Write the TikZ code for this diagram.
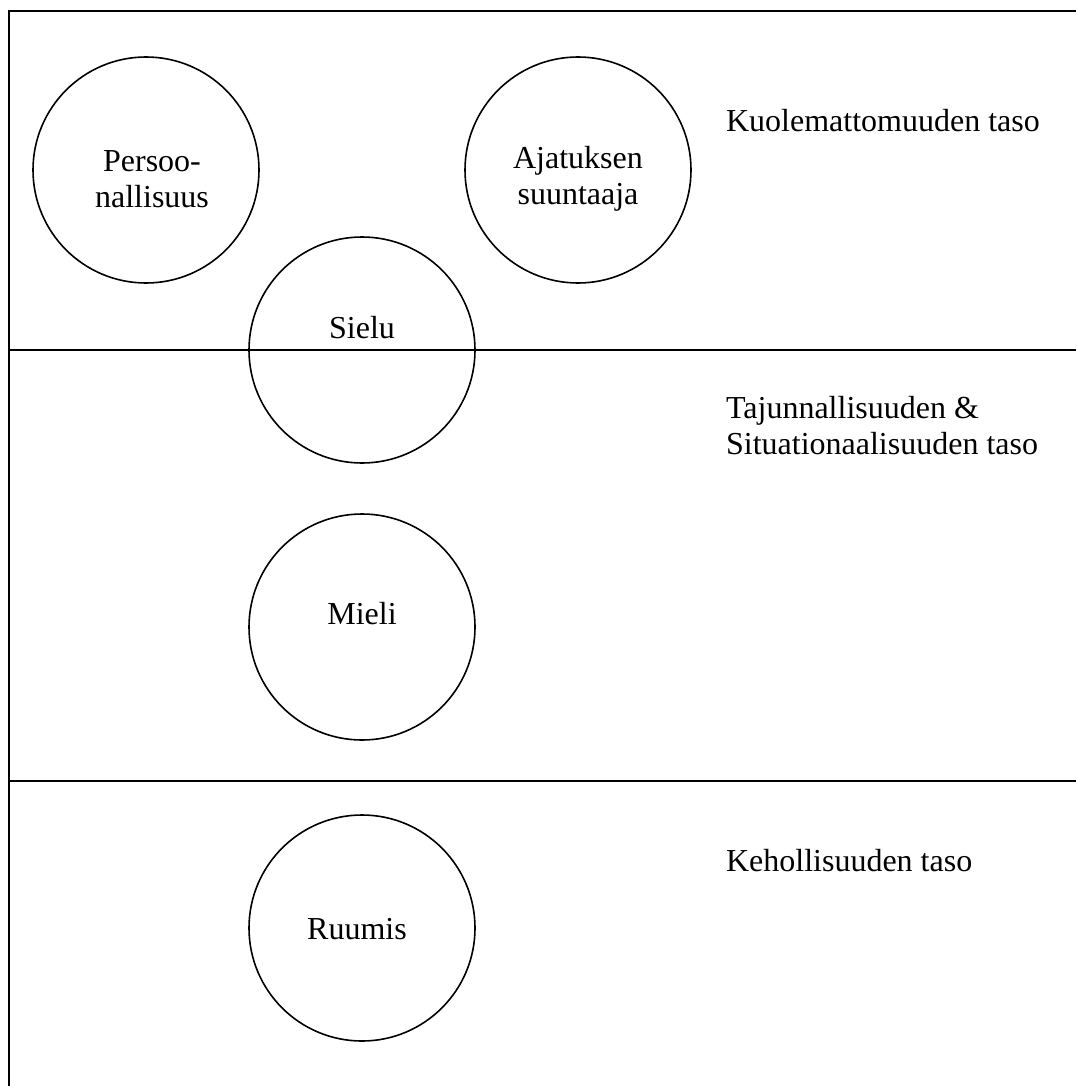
\documentclass[tikz,border=0pt]{standalone}
\usepackage{fontspec}
\setmainfont{Liberation Serif}
\begin{document}
\begin{tikzpicture}[x=0.5pt,y=-0.5pt,
    orb/.style={draw,circle,line width=0.8pt,minimum size=113pt,inner sep=0pt},
    nimi/.style={font=\fontsize{16}{18}\selectfont,align=center},
    taso/.style={font=\fontsize{16}{18}\selectfont,align=left,anchor=west}]
  \useasboundingbox (0,0) rectangle (1076,1086);

  % kehys ja tasojen rajat
  \draw[line width=1pt] (9,1086) -- (9,11) -- (1076,11);
  \draw[line width=1pt] (9,350) -- (1076,350);
  \draw[line width=1pt] (9,781) -- (1076,781);

  % ympyrat
  \node[orb] (persoona) at (146,170) {};
  \node[orb] (suuntaaja) at (578,170) {};
  \node[orb] (sielu) at (362,350) {};
  \node[orb] (mieli) at (362,627) {};
  \node[orb] (ruumis) at (362,928) {};

  \node[nimi] (persoonat) at (152,179) {Persoo-\\nallisuus};
  \node[nimi] (suuntaajat) at (578,179) {Ajatuksen\\suuntaaja};
  \node[nimi] (sielut) at (362,328) {Sielu};
  \node[nimi] (mielit) at (362,614) {Mieli};
  \node[nimi] (ruumist) at (357,929) {Ruumis};

  % tasot
  \node[taso] (kuolematon) at (719,121) {Kuolemattomuuden taso};
  \node[taso] (tajunta) at (719,426) {Tajunnallisuuden \&\\Situationaalisuuden taso};
  \node[taso] (keho) at (719,861) {Kehollisuuden taso};
\end{tikzpicture}
\end{document}
